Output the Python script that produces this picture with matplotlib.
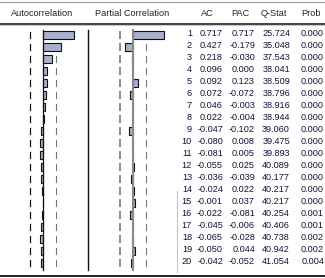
import numpy as np
import matplotlib
matplotlib.use("Agg")
import matplotlib.pyplot as plt

lags = list(range(1, 21))
ac = [0.717, 0.427, 0.218, 0.096, 0.092, 0.072, 0.046, 0.022, -0.047, -0.080,
      -0.081, -0.055, -0.036, -0.024, -0.001, -0.022, -0.045, -0.065, -0.050, -0.042]
pac = [0.717, -0.179, -0.030, 0.000, 0.123, -0.072, -0.003, -0.004, -0.102, 0.008,
       0.005, 0.025, -0.039, 0.022, 0.037, -0.081, -0.006, -0.028, 0.044, -0.052]
qstat = [25.724, 35.048, 37.543, 38.041, 38.509, 38.796, 38.916, 38.944, 39.060, 39.475,
         39.893, 40.089, 40.177, 40.217, 40.217, 40.254, 40.406, 40.738, 40.942, 41.054]
prob = [0.000, 0.000, 0.000, 0.000, 0.000, 0.000, 0.000, 0.000, 0.000, 0.000,
        0.000, 0.000, 0.000, 0.000, 0.000, 0.001, 0.001, 0.002, 0.002, 0.004]
headers = ["Autocorrelation", "Partial Correlation", "AC", "PAC", "Q-Stat", "Prob"]
nobs = 47

W, H = 325, 278
fig = plt.figure(figsize=(W / 100, H / 100), dpi=100)
fig.patch.set_facecolor("white")

FONT = "Liberation Sans"
FS = 6.6
TXT = "#14143a"
BAR = "#a9b0cd"

# row mapping: lag -> pixel y = 35 + 12*(lag-1)
ylim = (1 + (H - 35) / 12, 1 - 35 / 12)
px = 43.0  # pixels per correlation unit
band = 2 / np.sqrt(nobs)

def px_ax(x0, x1):
    return fig.add_axes([x0 / W, 0, (x1 - x0) / W, 1])

# overlay axes in pixel coords for rules
ov = fig.add_axes([0, 0, 1, 1])
ov.set_xlim(0, W)
ov.set_ylim(H, 0)
ov.axis("off")
ov.plot([0, W], [1.5, 1.5], color="#9a9a9a", lw=0.8)
ov.plot([0, W], [23.8, 23.8], color="#222222", lw=1.2)
ov.plot([0, W], [25.2, 25.2], color="#bbbbbb", lw=0.6)
ov.plot([0, W], [275.5, 275.5], color="#111111", lw=1.3)
ov.plot([88, 88], [30, 270], color="#111111", lw=1.0)
ov.plot([177, 177], [191, 272], color="#c8c8c8", lw=0.8)

hy = 13.5
ov.text(42.5, hy, headers[0], ha="center", va="center", fontsize=FS, family=FONT, color="#222222")
ov.text(132.5, hy, headers[1], ha="center", va="center", fontsize=FS, family=FONT, color="#222222")
ov.text(207.5, hy, headers[2], ha="center", va="center", fontsize=FS, family=FONT, color="#222222")
ov.text(240, hy, headers[3], ha="center", va="center", fontsize=FS, family=FONT, color="#222222")
ov.text(274, hy, headers[4], ha="center", va="center", fontsize=FS, family=FONT, color="#222222")
ov.text(311.5, hy, headers[5], ha="center", va="center", fontsize=FS, family=FONT, color="#222222")

def panel(x0, x1, zero_px, vals, zero_color, zero_lw, lcol, rcol, llw, rlw):
    a = px_ax(x0, x1)
    a.set_xlim((x0 - zero_px) / px, (x1 - zero_px) / px)
    a.set_ylim(*ylim)
    a.axis("off")
    a.patch.set_alpha(0)
    a.barh(lags, vals, height=0.6, color=BAR, edgecolor="#111111", linewidth=0.8, zorder=2)
    a.plot([0, 0], [lags[0] - 0.42, lags[-1] + 0.6], color=zero_color, lw=zero_lw, zorder=3)
    for l in lags:
        a.plot([-band, -band], [l - 0.25, l + 0.25], color=lcol, lw=llw, zorder=1)
        a.plot([band, band], [l - 0.25, l + 0.25], color=rcol, lw=rlw, zorder=1)
    return a

panel(0, 88, 43, ac, "#111111", 0.9, "#111111", "#777777", 0.9, 0.8)
panel(88, 178, 133, pac, "#8a8a8a", 1.5, "#8a8a8a", "#777777", 1.4, 0.8)

tx = fig.add_axes([0, 0, 1, 1])
tx.set_xlim(0, W)
tx.set_ylim(*ylim)
tx.axis("off")
tx.patch.set_alpha(0)
for i, l in enumerate(lags):
    kw = dict(ha="right", va="center", fontsize=FS, family=FONT, color=TXT)
    y = l - 0.1
    tx.text(192, y, f"{l}", **kw)
    tx.text(223, y, f"{ac[i]:.3f}", **kw)
    tx.text(255, y, f"{pac[i]:.3f}", **kw)
    tx.text(290, y, f"{qstat[i]:.3f}", **kw)
    tx.text(324, y, f"{prob[i]:.3f}", **kw)

fig.savefig("out.png", dpi=100, facecolor="white")
